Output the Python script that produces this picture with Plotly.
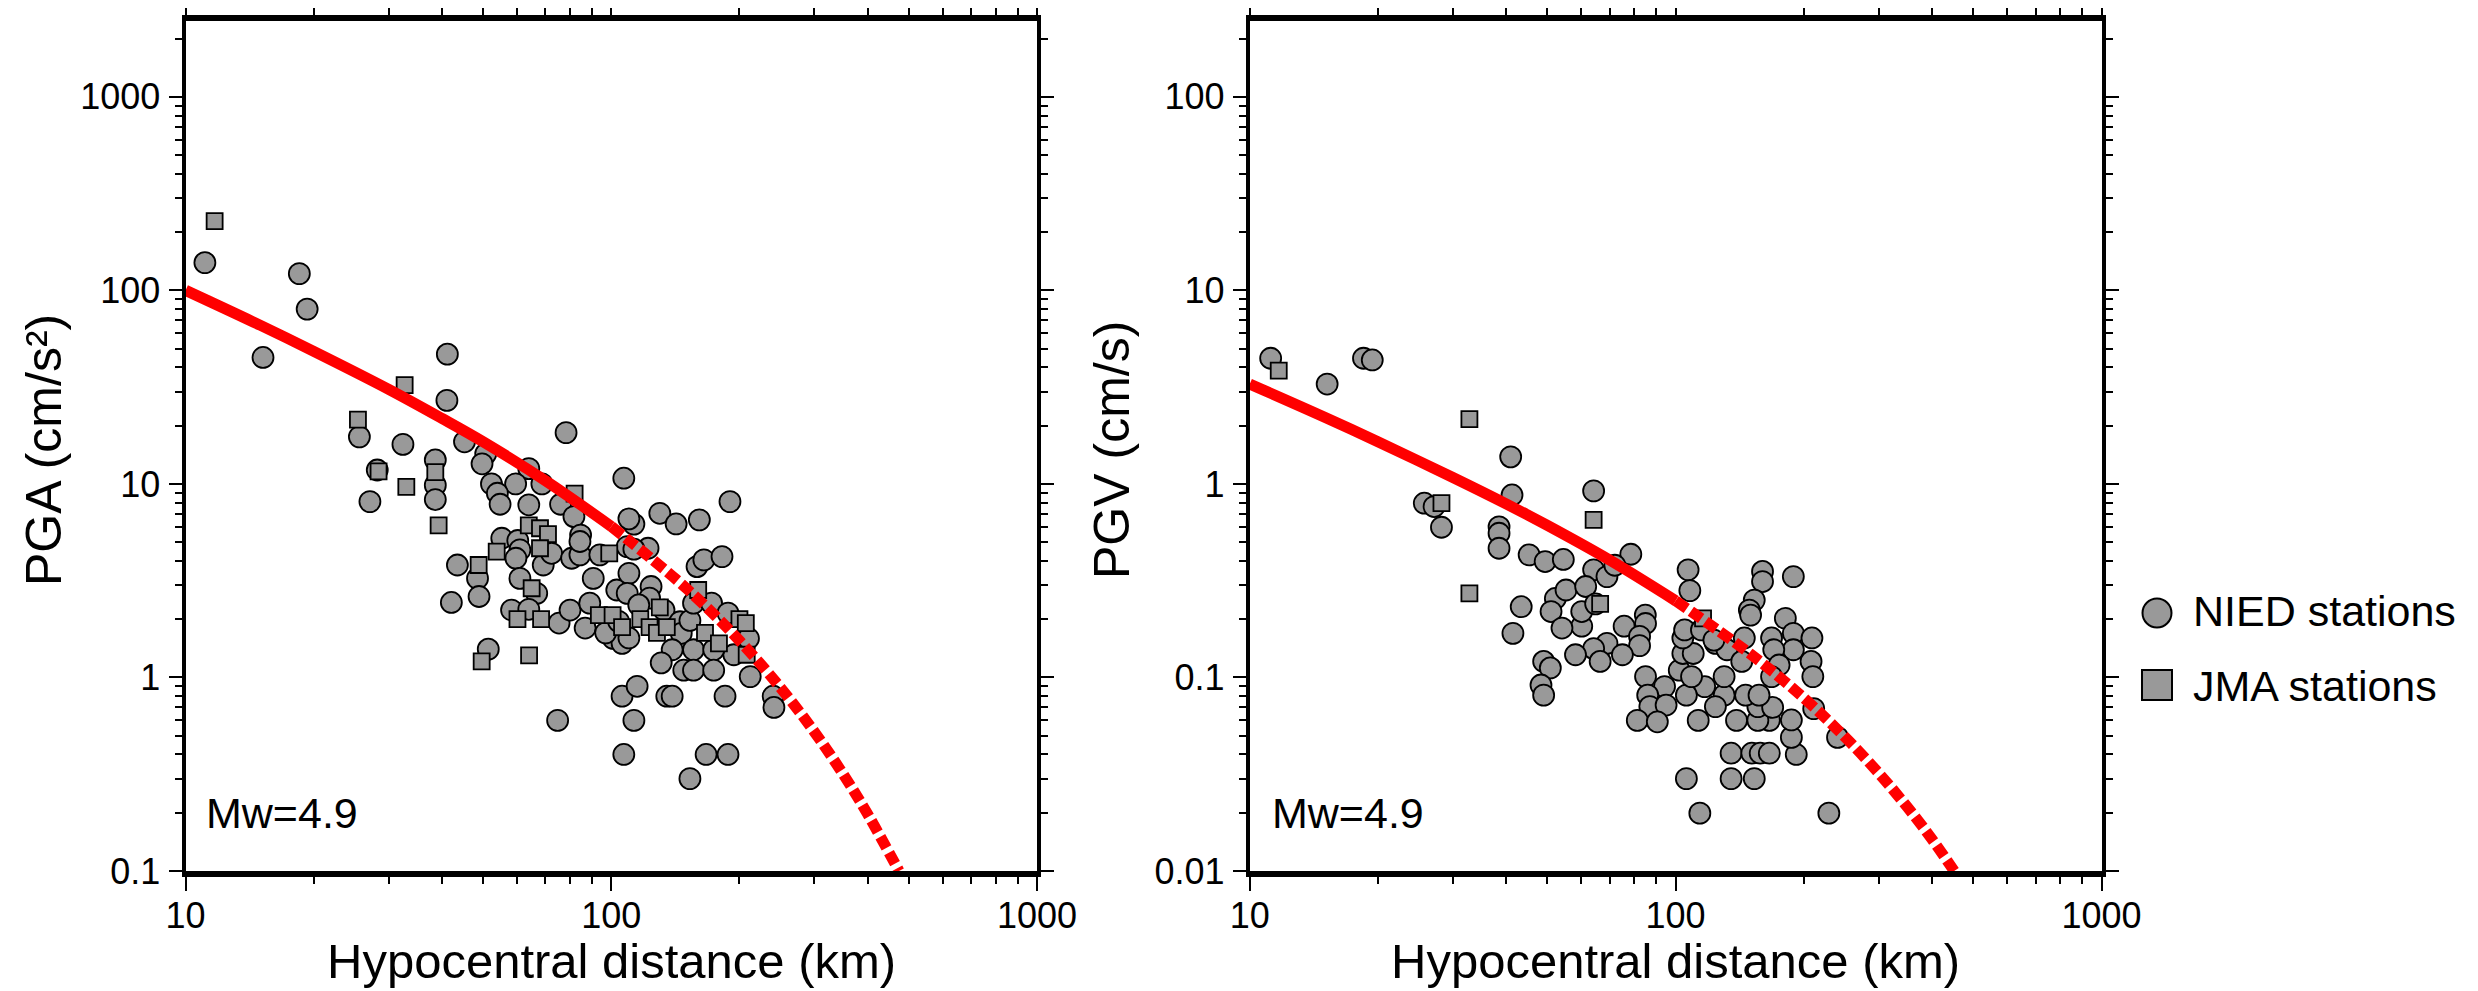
import plotly.graph_objects as go

# The page shows the figure with an 8 px body margin, so the figure is sized to the window minus that offset
OFF = 8
W, H = 2478 - OFF, 991 - OFF

# ---------------- data ----------------
# Left panel: PGA (cm/s^2) vs hypocentral distance (km)
nied_pga_dist = [11.1, 18.5, 19.3, 15.2, 41.2, 41.1, 25.6, 32.4, 45.2, 78.3, 50.7, 49.7, 38.6, 28.2, 64, 59.6,
                 52.3, 68.7, 107, 38.6, 190, 38.6, 27.1, 54, 54.8, 64, 76, 81.7, 84.7, 130, 142, 161, 113, 110,
                 55.3, 60.3, 43.5, 48.5, 48.9, 42.1,
                 61, 59.7, 69.2, 72.4, 80.7, 84.4, 94, 84.4, 109, 122, 61, 66.8, 58.3, 75.4, 80, 86.8, 89, 90.7,
                 101, 106, 103, 110, 109, 124, 123, 116, 133, 145, 146, 153, 156, 159, 165, 182, 172, 188, 210,
                 194, 156, 174, 139, 131, 148, 156, 174, 212, 240, 241, 106, 115, 135, 139, 185, 74.8, 113, 107,
                 167, 188, 153, 51.4, 64, 97, 104, 110, 113]
nied_pga = [139, 122, 80, 45, 46.8, 27, 17.5, 16, 16.5, 18.4, 14.3, 12.7, 13.3, 11.8, 12, 10,
            10, 10, 10.7, 9.85, 8.1, 8.3, 8.1, 8.95, 7.85, 7.8, 7.85, 6.78, 5.44, 7.05, 6.21, 6.52, 6.2, 6.6,
            5.24, 5.1, 3.81, 3.25, 2.62, 2.44,
            4.56, 4.13, 3.81, 4.38, 4.13, 4.30, 4.30, 5.04, 4.74, 4.65, 3.25, 2.72, 2.23, 1.91, 2.23, 1.80, 2.42, 3.25,
            1.59, 1.50, 2.83, 3.45, 2.72, 2.95, 2.57, 2.37, 2.23, 1.94, 1.69, 1.97, 2.42, 3.74, 4.05, 4.21, 2.42, 2.15, 1.59,
            1.31, 1.39, 1.39, 1.39, 1.19, 1.09, 1.09, 1.09, 1.01, 0.80, 0.70, 0.80, 0.90, 0.80, 0.80, 0.80, 0.60, 0.60, 0.40,
            0.40, 0.40, 0.30, 1.40, 2.25, 1.70, 1.95, 1.60, 4.60]

jma_pga_dist = [11.7, 32.7, 25.4, 28.4, 38.6, 33, 82, 39.3, 64, 68, 71, 53.8, 48.8, 68, 98.9, 65, 60.2, 68.4,
                93.5, 100.7, 106, 117, 130, 123, 128, 135, 160, 166, 179, 200, 207, 208, 64.1, 49.6]
jma_pga = [228, 32.4, 21.5, 11.6, 11.5, 9.65, 8.9, 6.1, 6.1, 5.9, 5.5, 4.47, 3.81, 4.65, 4.38, 2.89, 2.0, 2.0,
           2.1, 2.1, 1.82, 2.0, 2.30, 1.82, 1.70, 1.82, 2.83, 1.70, 1.50, 2.0, 1.91, 1.31, 1.30, 1.21]

# Right panel: PGV (cm/s) vs hypocentral distance (km)
nied_pgv_dist = [11.2, 15.2, 18.5, 19.4, 41, 64.2, 25.7, 27.1, 28.2, 41.3, 38.5, 38.5, 38.5, 45.3, 49.4, 54.5,
                 78.5, 64.2, 69, 72, 107, 108, 160, 160, 189, 153, 149, 150, 181, 189, 209, 189, 208, 210, 211,
                 240, 229, 114, 106, 135, 153, 135, 151, 158, 166, 192, 187, 187, 166, 156, 139, 113, 156, 169,
                 146, 157, 130, 124, 117, 106, 102, 109, 130, 104, 110, 124, 132, 143, 145, 168, 170, 175, 168,
                 104, 105, 115, 123, 84.9, 85, 75.7, 82.3, 82.3, 69, 75, 64.2, 58.2, 66.5, 60.2, 60.2, 52.2,
                 55.3, 61.5, 51, 54.1, 43.4, 41.5, 64.9, 49, 50.8, 48.3, 49, 85, 94.2, 86, 87, 95, 81.3, 90.6]
nied_pgv = [4.46, 3.28, 4.46, 4.37, 1.38, 0.92, 0.795, 0.764, 0.597, 0.877, 0.6, 0.556, 0.465, 0.43, 0.397, 0.407,
            0.433, 0.36, 0.332, 0.38, 0.36, 0.281, 0.353, 0.313, 0.332, 0.251, 0.223, 0.21, 0.202, 0.169, 0.16, 0.139,
            0.121, 0.101, 0.069, 0.049, 0.0199, 0.0199, 0.030, 0.030, 0.030, 0.0406, 0.0406, 0.0406, 0.0406, 0.04,
            0.049, 0.0603, 0.06, 0.06, 0.06, 0.06, 0.0707, 0.07, 0.081, 0.081, 0.081, 0.0707, 0.0897, 0.081, 0.109,
            0.101, 0.101, 0.133, 0.133, 0.150, 0.139, 0.121, 0.16, 0.16, 0.139, 0.116, 0.101, 0.16, 0.176, 0.176,
            0.156, 0.21, 0.19, 0.184, 0.163, 0.146, 0.15, 0.131, 0.141, 0.131, 0.121, 0.184, 0.219, 0.256, 0.283,
            0.295, 0.219, 0.18, 0.232, 0.169, 0.24, 0.121, 0.112, 0.0914, 0.081, 0.101, 0.0897, 0.081, 0.0707,
            0.072, 0.06, 0.059]

jma_pgv_dist = [11.7, 32.8, 28.2, 64.2, 32.8, 66.5, 116]
jma_pgv = [3.85, 2.16, 0.795, 0.652, 0.272, 0.24, 0.202]

# Prediction curves
pga_line_dist_solid = [10, 15, 20, 30, 40, 50, 70, 100]
pga_line_solid = [100, 65.9, 48.4, 30.8, 21.8, 16.5, 10.4, 6.03]
pga_line_dist_dash = [100, 150, 200, 250, 300, 350, 400, 474]
pga_line_dash = [6.03, 2.89, 1.55, 0.883, 0.523, 0.318, 0.197, 0.1]

pgv_line_dist_solid = [10, 15, 20, 30, 40, 50, 70, 100]
pgv_line_solid = [3.28, 2.21, 1.65, 1.08, 0.789, 0.61, 0.404, 0.249]
pgv_line_dist_dash = [100, 150, 200, 250, 300, 350, 400, 451]
pgv_line_dash = [0.249, 0.132, 0.0783, 0.0491, 0.032, 0.0214, 0.0146, 0.01]

x_tick_vals = [10, 100, 1000]
x_tick_text = ["10", "100", "1000"]
pga_tick_vals = [0.1, 1, 10, 100, 1000]
pga_tick_text = ["0.1", "1", "10", "100", "1000"]
pgv_tick_vals = [0.01, 0.1, 1, 10, 100]
pgv_tick_text = ["0.01", "0.1", "1", "10", "100"]

magnitude_label = "Mw=4.9"

# ---------------- styling ----------------
FONT = "Liberation Sans, Arial, Helvetica, sans-serif"
GRAY = "#999999"
minor_vals = [m * 10 ** e for e in range(-3, 4) for m in range(2, 10)]


def px_x(p):
    # screen pixel -> paper fraction
    return (p - OFF) / W


def px_y(p):
    return 1 - (p - OFF) / H


fig = go.Figure()

marker_circle = dict(symbol="circle", size=21, color=GRAY, line=dict(color="black", width=1.8))
marker_square = dict(symbol="square", size=16, color=GRAY, line=dict(color="black", width=1.8))
line_solid = dict(color="#ff0000", width=11)
line_dash = dict(color="#ff0000", width=11, dash="13px,5px")

for xa, ya, nd, nv, jd, jv, ld, lv, dd, dv in [
    ("x", "y", nied_pga_dist, nied_pga, jma_pga_dist, jma_pga,
     pga_line_dist_solid, pga_line_solid, pga_line_dist_dash, pga_line_dash),
    ("x2", "y2", nied_pgv_dist, nied_pgv, jma_pgv_dist, jma_pgv,
     pgv_line_dist_solid, pgv_line_solid, pgv_line_dist_dash, pgv_line_dash),
]:
    fig.add_trace(go.Scatter(x=nd, y=nv, mode="markers", marker=marker_circle, name="NIED stations",
                             xaxis=xa, yaxis=ya, showlegend=False))
    fig.add_trace(go.Scatter(x=jd, y=jv, mode="markers", marker=marker_square, name="JMA stations",
                             xaxis=xa, yaxis=ya, showlegend=False))
    fig.add_trace(go.Scatter(x=ld, y=lv, mode="lines", line=dict(line_solid, shape="spline"),
                             xaxis=xa, yaxis=ya, showlegend=False))
    fig.add_trace(go.Scatter(x=dd, y=dv, mode="lines", line=dict(line_dash, shape="spline"),
                             xaxis=xa, yaxis=ya, showlegend=False))

common_x = dict(type="log", range=[1, 3], tickmode="array", tickvals=x_tick_vals, ticktext=x_tick_text,
                ticks="outside", ticklen=14, tickwidth=2, tickcolor="black",
                showline=True, linecolor="black", linewidth=6, mirror="ticks",
                showgrid=False, zeroline=False, automargin=False,
                tickfont=dict(family=FONT, size=36, color="black"), ticklabelstandoff=-6,
                minor=dict(tickmode="array", tickvals=minor_vals, ticks="outside", ticklen=7,
                           tickwidth=2, tickcolor="black", showgrid=False))
common_y = dict(type="log", tickmode="array",
                ticks="outside", ticklen=13, tickwidth=2, tickcolor="black",
                showline=True, linecolor="black", linewidth=4, mirror="ticks",
                showgrid=False, zeroline=False, automargin=False,
                tickfont=dict(family=FONT, size=36, color="black"), ticklabelstandoff=1,
                minor=dict(tickmode="array", tickvals=minor_vals, ticks="outside", ticklen=7,
                           tickwidth=2, tickcolor="black", showgrid=False),
                domain=[px_y(871), px_y(20.8)])

fig.update_layout(
    template="none",
    width=W, height=H,
    margin=dict(l=0, r=0, t=0, b=0, pad=0),
    paper_bgcolor="white", plot_bgcolor="white",
    showlegend=False,
    font=dict(family=FONT, color="black"),
    xaxis=dict(common_x, domain=[px_x(185.6), px_x(1037)], anchor="y"),
    yaxis=dict(common_y, range=[-1, 3.3927], tickvals=pga_tick_vals, ticktext=pga_tick_text, anchor="x"),
    xaxis2=dict(common_x, domain=[px_x(1249.7), px_x(2101.5)], anchor="y2"),
    yaxis2=dict(common_y, range=[-2, 2.3927], tickvals=pgv_tick_vals, ticktext=pgv_tick_text, anchor="x2"),
)

ann = []
# axis titles
for cx in (611.3, 1675.6):
    ann.append(dict(text="Hypocentral distance (km)", x=px_x(cx), y=px_y(961), xref="paper", yref="paper",
                    xanchor="center", yanchor="middle", showarrow=False, font=dict(family=FONT, size=49)))
ann.append(dict(text="PGA (cm/s²)", x=px_x(44), y=px_y(450), xref="paper", yref="paper",
                textangle=-90, xanchor="center", yanchor="middle", showarrow=False, font=dict(family=FONT, size=50)))
ann.append(dict(text="PGV (cm/s)", x=px_x(1112), y=px_y(450), xref="paper", yref="paper",
                textangle=-90, xanchor="center", yanchor="middle", showarrow=False, font=dict(family=FONT, size=50)))
# magnitude labels
for lx in (204, 1270):
    ann.append(dict(text=magnitude_label, x=px_x(lx), y=px_y(813), xref="paper", yref="paper",
                    xanchor="left", yanchor="middle", showarrow=False, font=dict(family=FONT, size=43)))
# legend text
ann.append(dict(text="NIED stations", x=px_x(2191), y=px_y(611), xref="paper", yref="paper",
                xanchor="left", yanchor="middle", showarrow=False, font=dict(family=FONT, size=43)))
ann.append(dict(text="JMA stations", x=px_x(2191), y=px_y(686), xref="paper", yref="paper",
                xanchor="left", yanchor="middle", showarrow=False, font=dict(family=FONT, size=43)))
fig.update_layout(annotations=ann)

# legend symbols
fig.add_shape(type="circle", xref="paper", yref="paper",
              x0=px_x(2142.5), x1=px_x(2171.5), y0=px_y(627.5), y1=px_y(598.5),
              fillcolor=GRAY, line=dict(color="black", width=2))
fig.add_shape(type="rect", xref="paper", yref="paper",
              x0=px_x(2142), x1=px_x(2172), y0=px_y(700), y1=px_y(670),
              fillcolor=GRAY, line=dict(color="black", width=2))

fig.write_html("out.html")
